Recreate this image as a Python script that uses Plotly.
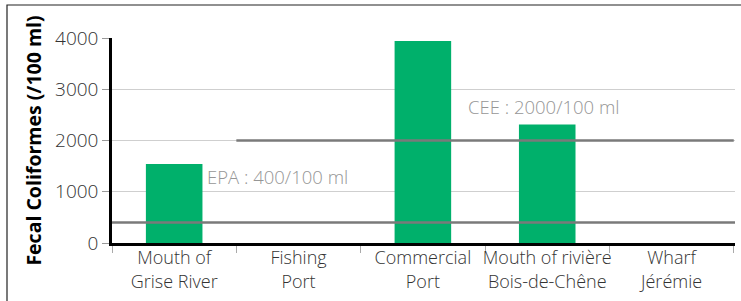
import plotly.graph_objects as go

categories = ["Mouth of<br>Grise River", "Fishing<br>Port", "Commercial<br>Port",
              "Mouth of rivière<br>Bois-de-Chêne", "Wharf<br>Jérémie"]
values = [1540, 0, 3940, 2310, 0]
y_ticks = [0, 1000, 2000, 3000, 4000]
epa_limit = 400
cee_limit = 2000
epa_label = "EPA : 400/100 ml"
cee_label = "CEE : 2000/100 ml"
y_title = "Fecal Coliformes (/100 ml)"

W, H = 741, 301
ML, MR, MT, MB = 112, 6, 38, 58
pw, ph = W - ML - MR, H - MT - MB

fig = go.Figure()
fig.add_trace(go.Bar(x=categories, y=values, width=0.455,
                     marker=dict(color="#00b06b", line=dict(width=0))))

# threshold lines
fig.add_shape(type="line", xref="paper", yref="y", x0=0, x1=1, y0=epa_limit, y1=epa_limit,
              line=dict(color="#7a7a7a", width=2.5), layer="above")
fig.add_shape(type="line", xref="x", yref="y", x0=0.5, x1=4.5, y0=cee_limit, y1=cee_limit,
              line=dict(color="#7a7a7a", width=2.5), layer="above")

fig.add_annotation(x=0.245, y=1290, xref="x", yref="y", text=epa_label, showarrow=False,
                   xanchor="left", yanchor="middle",
                   font=dict(family="Open Sans", size=18.5, color="#969696", weight=300))
fig.add_annotation(x=2.35, y=2670, xref="x", yref="y", text=cee_label, showarrow=False,
                   xanchor="left", yanchor="middle",
                   font=dict(family="Open Sans", size=18.5, color="#969696", weight=300))

# outer border (left and top visible)
fig.add_shape(type="rect", xref="paper", yref="paper",
              x0=(7 - ML) / pw, x1=(W + 5 - ML) / pw,
              y0=-(MB + 5) / ph, y1=(H - MB - 5) / ph,
              line=dict(color="#222", width=1.2), fillcolor="rgba(0,0,0,0)", layer="below")

fig.update_layout(
    width=W, height=H,
    margin=dict(l=ML, r=MR, t=MT, b=MB, autoexpand=False),
    paper_bgcolor="white", plot_bgcolor="white",
    showlegend=False,
    font=dict(family="Open Sans", size=17, color="#333"),
)
fig.update_xaxes(showline=True, linecolor="black", linewidth=2.5, automargin=False, tickangle=0,
                 ticks="outside", tickson="boundaries", ticklen=7, tickcolor="#aaa", tickwidth=1,
                 ticklabelstandoff=-3,
                 showgrid=False, tickfont=dict(family="Open Sans", size=18, color="#333", weight=300))
fig.update_yaxes(range=[0, 4000], tickvals=y_ticks, showline=True, linecolor="black", linewidth=2.5,
                 automargin=False,
                 ticks="outside", ticklen=7, tickcolor="#999", tickwidth=1,
                 showgrid=True, gridcolor="#cfcfcf", gridwidth=1, zeroline=False,
                 tickfont=dict(family="Open Sans", size=19, color="#333", weight=300),
                 title=dict(text=y_title, standoff=9,
                            font=dict(family="Open Sans", size=19.5, color="black", weight="bold")))

fig.write_html("out.html", config={"displayModeBar": False},
               post_script="document.body.style.margin='0';document.body.style.overflow='hidden';")
